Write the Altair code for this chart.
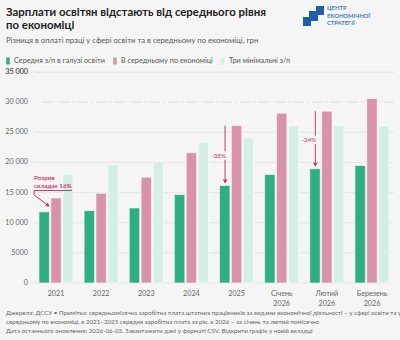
import altair as alt
import pandas as pd

# ---- data ----
categories = ["2021", "2022", "2023", "2024", "2025", "Січень 2026", "Лютий 2026", "Березень 2026"]
series = ["Середня з/п в галузі освіти", "В середньому по економіці", "Три мінімальні з/п"]
edu_wage = [11800, 12000, 12450, 14670, 16170, 18000, 18950, 19500]
avg_wage = [14100, 14880, 17550, 21610, 26110, 28170, 28500, 30600]
three_min = [18100, 19650, 20100, 23400, 24100, 26100, 26100, 26100]
y_ticks = [0, 5000, 10000, 15000, 20000, 25000, 30000, 35000]
y_tick_labels = ["0", "5000", "10 000", "15 000", "20 000", "25 000", "30 000", "35 000"]
gap_cats = ["2025", "Лютий 2026"]
gap_labels = ["-38%", "-34%"]
note_lines = ["Розрив", "складає 16%"]

colors = ["#2fae85", "#d993a9", "#d5efe5"]
ACC = "#c23a6e"
FONT = "Lato"

title1 = "Зарплати освітян відстають від середнього рівня"
title2 = "по економіці"
subtitle = "Різниця в оплаті праці у сфері освіти та в середньому по економіці, грн"
footer = [
    "Джерела: ДССУ • Примітка: середньомісячна заробітна плата штатних працівників за видами економічної діяльності – у сфері освіти та у",
    "середньому по економіці, в 2021–2025 середня заробітна плата за рік, в 2026 – за січень та лютий помісячно",
    "Дата останнього оновлення: 2026-06-03. Завантажити дані у форматі CSV. Відкрити графік у новій вкладці",
]
logo_lines = ["ЦЕНТР", "ЕКОНОМІЧНОЇ", "СТРАТЕГІЇ"]

rows = []
for i, c in enumerate(categories):
    for s, vals in zip(series, [edu_wage, avg_wage, three_min]):
        rows.append({"cat": c, "series": s, "value": vals[i]})
df = pd.DataFrame(rows)

W, H = 360, 211
Y_MAX = 35000
xscale = alt.Scale(domain=categories, paddingInner=0.244, paddingOuter=0.11)
yscale = alt.Scale(domain=[0, Y_MAX], nice=False)

X_AXIS = alt.Axis(labelExpr="split(datum.label, ' ')", labelAngle=0, ticks=False,
                  domain=False, labelFontSize=7.2, labelColor="#666", labelFont=FONT,
                  labelPadding=6, labelLineHeight=10, grid=False)
Y_AXIS = alt.Axis(values=y_ticks, grid=False, ticks=False, domain=False, labels=False)


def X(field="cat:N"):
    return alt.X(field, sort=categories, scale=xscale, axis=X_AXIS, title=None)


def Y(field):
    return alt.Y(field, scale=yscale, axis=Y_AXIS, title=None)


tick_df = pd.DataFrame({"v": y_ticks, "lab": y_tick_labels})
grid = alt.Chart(tick_df).transform_filter("datum.v != 30000").mark_rule(
    color="#e6e6e6", strokeWidth=1).encode(y=Y("v:Q"))
dash = alt.Chart(tick_df).transform_filter("datum.v == 30000").mark_rule(
    color="#dedede", strokeWidth=1, strokeDash=[10, 3, 2, 3]).encode(y=Y("v:Q"))
ylabels = alt.Chart(tick_df).mark_text(
    fontSize=7.2, font=FONT, color="#666", align="right", baseline="middle").encode(
    x=alt.value(-6), y=Y("v:Q"), text="lab:N")

# top tick (at the upper edge of the plot, where the scale maximum sits)
top_df = pd.DataFrame({"lab": [y_tick_labels[-1]]})
top_rule = alt.Chart(top_df).mark_rule(color="#e6e6e6", strokeWidth=1).encode(
    x=alt.value(0), x2=alt.value(W), y=alt.value(0.5))
top_label = alt.Chart(top_df).mark_text(
    fontSize=7.2, font=FONT, color="#666", align="right", baseline="middle").encode(
    x=alt.value(-6), y=alt.value(0), text="lab:N")

bars = alt.Chart(df).mark_bar(stroke="#ffffff", strokeWidth=0.6).encode(
    x=X(),
    xOffset=alt.XOffset("series:N", sort=series, scale=alt.Scale(paddingInner=0.12)),
    y=Y("value:Q"),
    color=alt.Color("series:N", sort=series, scale=alt.Scale(domain=series, range=colors),
                    legend=alt.Legend(title=None, orient="none", legendX=-30, legendY=-15,
                                      direction="horizontal", symbolType="M-0.5,-1H0.5V1H-0.5Z",
                                      symbolSize=50, symbolStrokeWidth=0, labelFontSize=7.3,
                                      labelColor="#555", labelFont=FONT, columnPadding=6,
                                      gridAlign="none", labelOffset=2, padding=0)),
)

# ---- gap arrows (2025, Лютий 2026) ----
arr_rows = []
for c, lab in zip(gap_cats, gap_labels):
    i = categories.index(c)
    top, bot = avg_wage[i], edu_wage[i]
    mid = (top + bot) / 2
    arr_rows.append({"cat": c, "top": top, "bot": bot, "mid": mid,
                     "m1": mid + 700, "m2": mid - 700, "lab": lab})
adf = pd.DataFrame(arr_rows)
XO = -11.5
seg1 = alt.Chart(adf).mark_rule(color=ACC, strokeWidth=1, xOffset=XO, x2Offset=XO).encode(
    x=X(), y=Y("top:Q"), y2="m1:Q")
seg2 = alt.Chart(adf).mark_rule(color=ACC, strokeWidth=1, xOffset=XO, x2Offset=XO, y2Offset=-3).encode(
    x=X(), y=Y("m2:Q"), y2="bot:Q")
head = alt.Chart(adf).mark_point(shape="triangle-down", filled=True, color=ACC, size=22,
                                 opacity=1, xOffset=XO, yOffset=-4).encode(x=X(), y=Y("bot:Q"))
glab = alt.Chart(adf).mark_text(color=ACC, fontSize=6.3, font=FONT, align="right",
                                baseline="middle", xOffset=XO + 1).encode(
    x=X(), y=Y("mid:Q"), text="lab:N")

# ---- 2021 note ----
ndf = pd.DataFrame({"cat": ["2021"], "v": [avg_wage[0]]})
nbase = alt.Chart(ndf)
nx = X()
ny = Y("v:Q")
note_layers = []
for line, dy in zip(note_lines, [-20, -12]):
    note_layers.append(nbase.mark_text(
        text=line, color=ACC, fontSize=6.3, font=FONT, fontWeight="bold", align="left",
        baseline="middle", xOffset=-22, yOffset=dy).encode(x=nx, y=ny))
under = nbase.mark_rule(color=ACC, strokeWidth=1, xOffset=-22, x2Offset=16,
                        yOffset=-7.5, y2Offset=-7.5).encode(x=nx, x2="cat:N", y=ny, y2="v:Q")
vert = nbase.mark_rule(color=ACC, strokeWidth=1, xOffset=-22, x2Offset=-22,
                       yOffset=-7.5, y2Offset=-3).encode(x=nx, x2="cat:N", y=ny, y2="v:Q")
diag = nbase.mark_rule(color=ACC, strokeWidth=1, xOffset=-22, x2Offset=-9,
                       yOffset=-3, y2Offset=6.5).encode(x=nx, x2="cat:N", y=ny, y2="v:Q")
nhead = nbase.mark_point(shape="triangle-up", angle=128, filled=True, color=ACC, size=20,
                         opacity=1, xOffset=-8, yOffset=7.5).encode(x=nx, y=ny)

# ---- text decorations ----
one = pd.DataFrame({"a": [0]})
def txt(s, x, y, size, color, weight="normal", baseline="alphabetic"):
    return alt.Chart(one).mark_text(text=s, fontSize=size, font=FONT, color=color,
                                    fontWeight=weight, align="left", baseline=baseline).encode(
        x=alt.value(x), y=alt.value(y))

texts = [
    txt(title1, -28, -56, 11.4, "#222", "bold"),
    txt(title2, -28, -43.3, 11.4, "#222", "bold"),
    txt(subtitle, -28, -31, 7.7, "#555", baseline="middle"),
]
for k, line in enumerate(footer):
    texts.append(txt(line, -28, 241 + 9 * k, 6.2, "#666", baseline="middle"))
for k, line in enumerate(logo_lines):
    texts.append(txt(line, 293, -64 + 7.5 * k, 5.8, "#3b7bc0", "bold", baseline="middle"))

# logo staircase
logo_df = pd.DataFrame({"x": [269, 275, 282], "x2": [277, 284, 290],
                        "y": [-55, -61, -66], "y2": [-46, -51, -57]})
logo = alt.Chart(logo_df).mark_rect(color="#1f5ea8").encode(
    x=alt.X("x:Q", scale=None, axis=None), x2="x2:Q",
    y=alt.Y("y:Q", scale=None, axis=None), y2="y2:Q")

chart = alt.layer(grid, dash, ylabels, top_rule, top_label, bars, seg1, seg2, head, glab,
                  *note_layers, under, vert, diag, nhead, logo, *texts).properties(
    width=W, height=H, background="#f5f5f5",
    padding={"left": 34, "top": 72, "right": 6, "bottom": 57},
    autosize=alt.AutoSizeParams(type="none"),
).configure_view(stroke=None)

chart.save("out.html", embed_options={"renderer": "svg", "actions": False})
